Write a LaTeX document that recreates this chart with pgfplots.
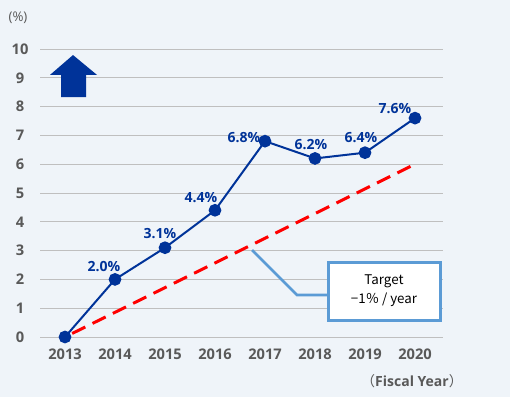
\documentclass[border=0pt]{standalone}
\usepackage{pgfplots}
\pgfplotsset{compat=1.18}
\usepackage{fontspec}
\setmainfont{Open Sans}
\newfontfamily\jp{Noto Sans CJK JP}
\definecolor{bg}{HTML}{EFF4F9}
\definecolor{navy}{HTML}{003399}
\definecolor{gridc}{HTML}{BFBFBF}
\definecolor{tickc}{HTML}{595959}
\definecolor{callout}{HTML}{5B9BD5}
\begin{document}
\begin{tikzpicture}
\fill[bg] (0pt,0pt) rectangle (382.5pt,297.75pt);
\begin{axis}[
  at={(30pt,45pt)}, anchor=south west,
  scale only axis, width=302.25pt, height=216pt,
  xmin=-0.5, xmax=7.56, ymin=0, ymax=10,
  xtick={0,...,7}, xticklabels={2013,2014,2015,2016,2017,2018,2019,2020},
  ytick={0,...,10},
  /pgf/number format/assume math mode=true,
  ymajorgrids, grid style={gridc, line width=0.75pt},
  axis line style={draw=none}, major tick length=0pt,
  tick label style={font=\bfseries\fontsize{11}{12}\selectfont, text=tickc},
  yticklabel style={anchor=center, inner sep=0pt, xshift=-15pt},
  xticklabel style={anchor=north, inner sep=0pt, yshift=-8.5pt},
  clip=false,
]
% target line
\addplot[red, line width=2.25pt, dash pattern=on 11pt off 6pt, dash phase=11pt] coordinates {(0,0) (7,6)};
% actual
\addplot[navy, line width=1.5pt, mark=*, mark size=4pt, mark options={fill=navy, draw=navy}]
  coordinates {(0,0) (1,2.0) (2,3.1) (3,4.4) (4,6.8) (5,6.2) (6,6.4) (7,7.6)};
% labels
\begin{scope}[every node/.style={font=\bfseries\fontsize{10.5}{12}\selectfont, text=navy, inner sep=0pt}]
\node at (axis cs:1,2.0) [xshift=-8.25pt, yshift=9.75pt] {2.0\%};
\node at (axis cs:2,3.1) [xshift=-3.75pt, yshift=10.5pt] {3.1\%};
\node at (axis cs:3,4.4) [xshift=-10.5pt, yshift=9.75pt] {4.4\%};
\node at (axis cs:4,6.8) [xshift=-15.75pt, yshift=3pt] {6.8\%};
\node at (axis cs:5,6.2) [xshift=-3pt, yshift=10.5pt] {6.2\%};
\node at (axis cs:6,6.4) [xshift=-3pt, yshift=11.25pt] {6.4\%};
\node at (axis cs:7,7.6) [xshift=-15pt, yshift=7.5pt] {7.6\%};
\end{scope}
% arrow
\fill[navy] (axis cs:0.16,9.79) -- (axis cs:0.64,9.10) -- (axis cs:0.42,9.10) -- (axis cs:0.42,8.33)
  -- (axis cs:-0.08,8.33) -- (axis cs:-0.08,9.10) -- (axis cs:-0.30,9.10) -- cycle;
% callout
\draw[callout, line width=2pt] (axis cs:3.74,3.02) -- (axis cs:4.64,1.46) -- (axis cs:5.26,1.46);
\draw[callout, line width=2.25pt, fill=white] (axis cs:5.26,2.6) rectangle (axis cs:7.5,0.59);
\node[align=center, font=\jp\fontsize{10}{14}\selectfont, inner sep=0pt] at (axis cs:6.38,1.6) {Target\\−1％ / year};
\end{axis}
\node[font=\fontsize{10}{12}\selectfont, text=tickc, inner sep=0pt] at (13.5pt,284.25pt) {(\%)};
\node[font=\bfseries\fontsize{10.5}{12}\selectfont, text=tickc, inner sep=0pt] at (309pt,12pt) {{\jp\mdseries （}Fiscal Year{\jp\mdseries ）}};
\end{tikzpicture}
\end{document}
